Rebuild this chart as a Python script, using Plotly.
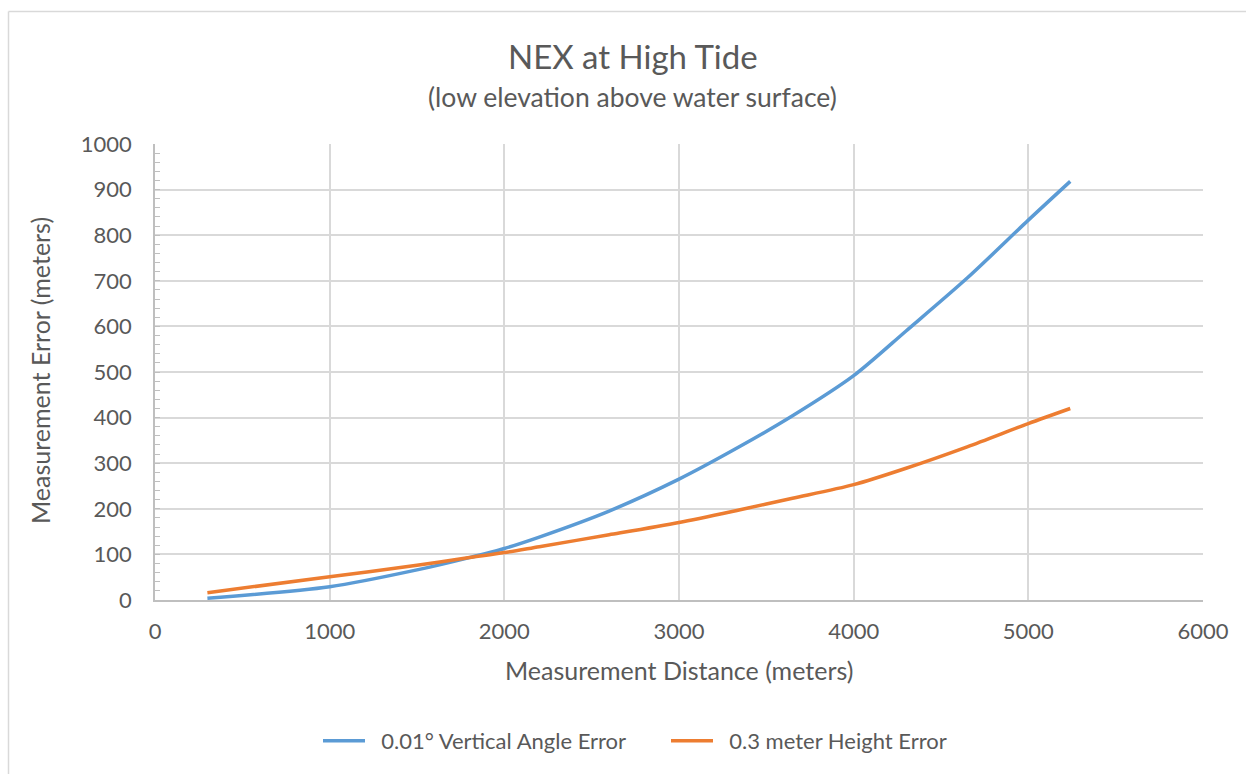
import plotly.graph_objects as go

distance = [300, 1000, 1500, 1800, 2000, 2200, 2600, 3000, 3350, 3650, 4000, 4300, 4650, 5000, 5240]
angle_err = [4, 29, 66, 93, 113, 138, 195, 265, 337, 404, 492, 590, 706, 833, 918]
height_err = [16, 51, 76, 93, 104, 117, 143, 170, 198, 223, 253, 289, 336, 387, 420]

series_names = ["0.01° Vertical Angle Error", "0.3 meter Height Error"]
colors = ["#5b9bd5", "#ed7d31"]
x_ticks = [0, 1000, 2000, 3000, 4000, 5000, 6000]
y_ticks = [0, 100, 200, 300, 400, 500, 600, 700, 800, 900, 1000]

FONT = "Lato"
TXT = "#595959"

fig = go.Figure()
for name, ys, c in zip(series_names, [angle_err, height_err], colors):
    fig.add_trace(go.Scatter(x=distance, y=ys, mode="lines", name="\u00a0\u00a0" + name,
                             line=dict(color=c, width=3.5, shape="spline", smoothing=0.8)))

W, H = 1246, 774
L, R, T, B = 155, 43, 144, 174
pw, ph = W - L - R, H - T - B

def px(x):
    return (x - L) / pw

def py(y):
    return (H - B - y) / ph

fig.update_layout(
    width=W, height=H,
    margin=dict(l=L, r=R, t=T, b=B),
    paper_bgcolor="white", plot_bgcolor="white",
    font=dict(family=FONT, color=TXT, size=22),
    showlegend=True,
    legend=dict(orientation="h", x=px(666), y=py(741), xanchor="center", yanchor="middle",
                font=dict(size=22, color=TXT), itemwidth=42, traceorder="normal",
                entrywidth=291, entrywidthmode="pixels"),
    xaxis=dict(range=[0, 6000], tickvals=x_ticks, showgrid=True, gridcolor="#d9d9d9", gridwidth=1.5,
               showline=True, linecolor="#bfbfbf", linewidth=1.5, ticks="", zeroline=False,
               tickfont=dict(size=22, color=TXT), ticklabelstandoff=11),
    yaxis=dict(range=[0, 1000], tickvals=y_ticks, showgrid=True, gridcolor="#d9d9d9", gridwidth=1.5,
               showline=True, linecolor="#bfbfbf", linewidth=1.5, ticks="inside", ticklen=5,
               tickcolor="#bfbfbf", zeroline=False, tickfont=dict(size=22, color=TXT),
               ticklabelstandoff=17,
               minor=dict(dtick=20, ticks="inside", ticklen=5, tickcolor="#bfbfbf", showgrid=False)),
)

anns = [
    ("NEX at High Tide", 633, 56, 33, 0),
    ("(low elevation above water surface)", 632, 97, 26.5, 0),
    ("Measurement Distance (meters)", 679, 670, 25, 0),
    ("Measurement Error (meters)", 40, 371, 25, -90),
]
for text, x, y, s, rot in anns:
    fig.add_annotation(text=text, x=px(x), y=py(y), xref="paper", yref="paper",
                       showarrow=False, xanchor="center", yanchor="middle", textangle=rot,
                       font=dict(family=FONT, size=s, color=TXT))

# chart border (partially cropped in the reference)
fig.add_shape(type="line", xref="paper", yref="paper", x0=px(8.5), y0=py(11.5), x1=px(1260), y1=py(11.5),
              line=dict(color="#d9d9d9", width=1.5))
fig.add_shape(type="line", xref="paper", yref="paper", x0=px(8.5), y0=py(11.5), x1=px(8.5), y1=py(790),
              line=dict(color="#d9d9d9", width=1.5))

fig.write_html("out.html")
